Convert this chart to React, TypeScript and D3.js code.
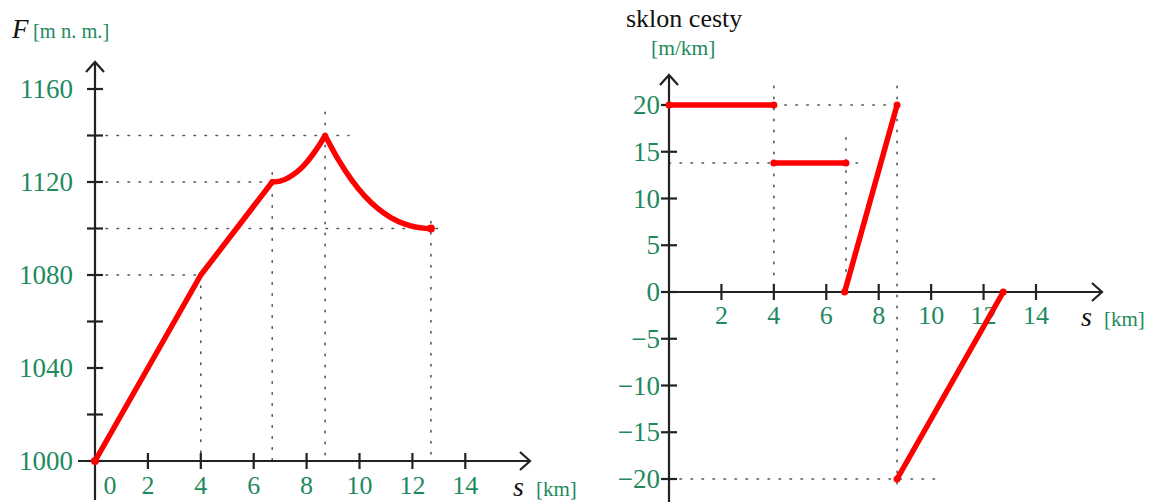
import React from 'react'
import * as d3 from 'd3'

// left chart: elevation profile F [m n. m.] vs s [km]
const elevTicks = [1000, 1020, 1040, 1060, 1080, 1100, 1120, 1140, 1160]
const elevLabels = [1000, 1040, 1080, 1120, 1160]
const distTicksLeft = [2, 4, 6, 8, 10, 12, 14]
const distLabelsLeft = [0, 2, 4, 6, 8, 10, 12, 14]
const profileStraight = [[0, 1000], [4, 1080], [6.7, 1120]]
const profileRise = [
  [6.7, 1120], [7.0, 1120.4], [7.3, 1121.8], [7.6, 1124], [7.9, 1127.2],
  [8.2, 1131.3], [8.5, 1136.2], [8.7, 1140],
]
const profileFall = [
  [8.7, 1140], [9.2, 1129.6], [9.7, 1120.9], [10.2, 1113.9], [10.7, 1108.5],
  [11.2, 1104.6], [11.7, 1102], [12.2, 1100.5], [12.7, 1100],
]
const profileDots = [[0, 1000], [12.7, 1100]]
// guides: [s1, F1, s2, F2]
const profileGuides = [
  [0, 1080, 4, 1080], [0, 1120, 6.7, 1120], [0, 1140, 9.6, 1140], [0, 1100, 13, 1100],
  [4, 1080, 4, 1000], [6.7, 1124, 6.7, 1000], [8.7, 1150, 8.7, 1000], [12.7, 1103, 12.7, 1000],
]

// right chart: road slope [m/km] vs s [km]
const slopeTicks = [-20, -15, -10, -5, 0, 5, 10, 15, 20]
const distTicksRight = [2, 4, 6, 8, 10, 12, 14]
const slopeSegments = [
  [[0, 20], [4, 20]],
  [[4, 13.8], [6.75, 13.8]],
  [[6.7, 0], [8.7, 20]],
  [[8.7, -20], [12.75, 0]],
]
const slopeGuides = [
  [4, 20, 9, 20], [0, 13.8, 7.4, 13.8], [0, -20, 10.2, -20],
  [4, 22, 4, 0], [6.75, 16.5, 6.75, 0], [8.7, 22, 8.7, -21],
]

const GREEN = '#1f8a5e'
const RED = '#ff0000'
const INK = '#222'
const FONT = '"Liberation Serif", serif'

function Arrow({ x, y, dir }: { x: number; y: number; dir: 'up' | 'right' }) {
  const d = dir === 'up'
    ? `M${x - 9},${y + 10}L${x},${y}L${x + 9},${y + 10}`
    : `M${x - 10},${y - 9}L${x},${y}L${x - 10},${y + 9}`
  return <path d={d} fill="none" stroke={INK} strokeWidth={2.2} />
}

function Guides({ rows, xs, ys }: { rows: number[][]; xs: any; ys: any }) {
  return (
    <g stroke="#555" strokeWidth={1.6} strokeDasharray="1.5 9.5" strokeLinecap="round">
      {rows.map((r, i) => (
        <line key={i} x1={xs(r[0])} y1={ys(r[1])} x2={xs(r[2])} y2={ys(r[3])} />
      ))}
    </g>
  )
}

function ProfileChart() {
  const x = d3.scaleLinear().domain([0, 14]).range([95, 465.3])
  const y = d3.scaleLinear().domain([1000, 1160]).range([461, 89])
  const straight = d3.line().x(d => x(d[0])).y(d => y(d[1]))
  const curved = d3.line().x(d => x(d[0])).y(d => y(d[1])).curve(d3.curveMonotoneX)
  const x0 = x(0), y0 = y(1000)

  return (
    <g fontFamily={FONT}>
      <Guides rows={profileGuides} xs={x} ys={y} />
      {/* axes */}
      <line x1={78} y1={y0} x2={530} y2={y0} stroke={INK} strokeWidth={2.2} />
      <Arrow x={530} y={y0} dir="right" />
      <line x1={x0} y1={500} x2={x0} y2={62} stroke={INK} strokeWidth={2.2} />
      <Arrow x={x0} y={62} dir="up" />
      {elevTicks.map(t => (
        <line key={t} x1={x0 - 8} x2={x0 + 8} y1={y(t)} y2={y(t)} stroke={INK} strokeWidth={2.2} />
      ))}
      {distTicksLeft.map(t => (
        <line key={t} x1={x(t)} x2={x(t)} y1={y0 - 8} y2={y0 + 8} stroke={INK} strokeWidth={2.2} />
      ))}
      {elevLabels.map(t => (
        <text key={t} x={73} y={y(t) + 9} textAnchor="end" fontSize={27} fill={GREEN}>{t}</text>
      ))}
      {distLabelsLeft.map(t => (
        <text key={t} x={t === 0 ? x0 + 15 : x(t)} y={494} textAnchor="middle" fontSize={26} fill={GREEN}>{t}</text>
      ))}
      <text x={12} y={38} fontSize={27} fontStyle="italic" fill="#111">F</text>
      <text x={33} y={38} fontSize={20.5} fill={GREEN}>[m n. m.]</text>
      <text x={513} y={496} fontSize={28} fontStyle="italic" fill="#111">s</text>
      <text x={536} y={496} fontSize={21} fill={GREEN}>[km]</text>
      {/* profile */}
      <g fill="none" stroke={RED} strokeWidth={5.5} strokeLinejoin="round" strokeLinecap="round">
        <path d={straight(profileStraight as any) || ''} />
        <path d={curved(profileRise as any) || ''} />
        <path d={curved(profileFall as any) || ''} />
      </g>
      {profileDots.map((p, i) => (
        <circle key={i} cx={x(p[0])} cy={y(p[1])} r={4} fill={RED} />
      ))}
    </g>
  )
}

function SlopeChart() {
  const x = d3.scaleLinear().domain([0, 14]).range([669, 1036])
  const y = d3.scaleLinear().domain([-20, 20]).range([479, 105])
  const line = d3.line().x(d => x(d[0])).y(d => y(d[1]))
  const x0 = x(0), y0 = y(0)

  return (
    <g fontFamily={FONT}>
      <Guides rows={slopeGuides} xs={x} ys={y} />
      <line x1={x0} y1={y0} x2={1102} y2={y0} stroke={INK} strokeWidth={2.2} />
      <Arrow x={1102} y={y0} dir="right" />
      <line x1={x0} y1={502} x2={x0} y2={75} stroke={INK} strokeWidth={2.2} />
      <Arrow x={x0} y={75} dir="up" />
      {slopeTicks.map(t => (
        <line key={t} x1={x0 - 8} x2={x0 + 8} y1={y(t)} y2={y(t)} stroke={INK} strokeWidth={2.2} />
      ))}
      {distTicksRight.map(t => (
        <line key={t} x1={x(t)} x2={x(t)} y1={y0 - 8} y2={y0 + 8} stroke={INK} strokeWidth={2.2} />
      ))}
      {slopeTicks.map(t => (
        <text key={t} x={660} y={y(t) + 9} textAnchor="end" fontSize={27} fill={GREEN}>
          {t < 0 ? '\u2212' + Math.abs(t) : t}
        </text>
      ))}
      {distTicksRight.map(t => (
        <text key={t} x={x(t)} y={324} textAnchor="middle" fontSize={26} fill={GREEN}>{t}</text>
      ))}
      <text x={626} y={27} fontSize={26} fill="#111">sklon cesty</text>
      <text x={651} y={55} fontSize={21.5} fill={GREEN}>[m/km]</text>
      <text x={1081} y={326} fontSize={28} fontStyle="italic" fill="#111">s</text>
      <text x={1104} y={326} fontSize={21} fill={GREEN}>[km]</text>
      <g fill="none" stroke={RED} strokeWidth={5.5} strokeLinecap="round">
        {slopeSegments.map((s, i) => <path key={i} d={line(s as any) || ''} />)}
      </g>
      {slopeSegments.flat().map((p, i) => (
        <circle key={i} cx={x(p[0])} cy={y(p[1])} r={3.5} fill={RED} />
      ))}
    </g>
  )
}

export default function App() {
  return (
    <svg width={1151} height={502} style={{ position: 'absolute', left: 0, top: 0, background: '#fff' }}>
      <rect width={1151} height={502} fill="#fff" />
      <ProfileChart />
      <SlopeChart />
    </svg>
  )
}
